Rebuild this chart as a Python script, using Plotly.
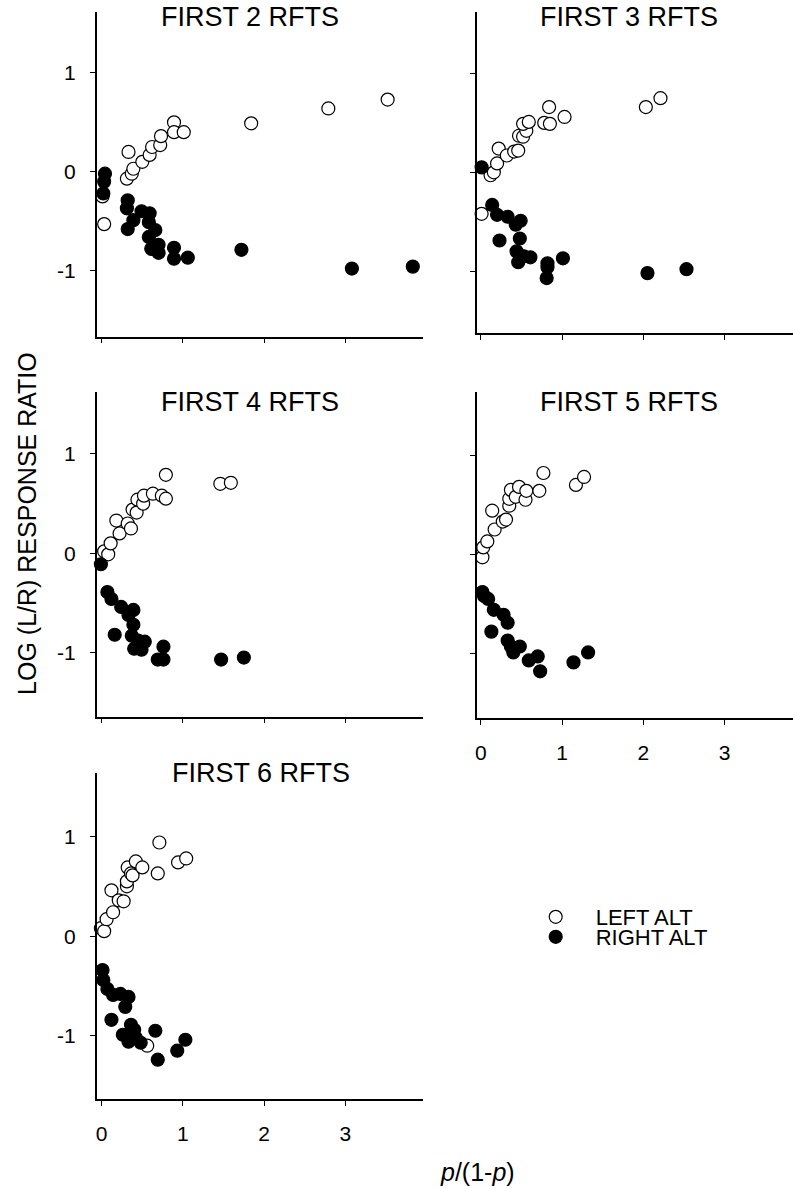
import plotly.graph_objects as go

W, H = 793, 1188

panel_titles = ["FIRST 2 RFTS", "FIRST 3 RFTS", "FIRST 4 RFTS", "FIRST 5 RFTS", "FIRST 6 RFTS"]

# FIRST 2 RFTS
p1_left_x = [0.03, 0.01, 0.31, 0.37, 0.39, 0.33, 0.50, 0.59, 0.62, 0.72, 0.73, 0.89, 0.89, 1.01, 1.84, 2.79, 3.52]
p1_left_y = [-0.53, -0.25, -0.07, -0.02, 0.03, 0.20, 0.10, 0.17, 0.25, 0.27, 0.36, 0.50, 0.40, 0.40, 0.49, 0.64, 0.73]
p1_right_x = [0.04, 0.03, 0.02, 0.32, 0.31, 0.32, 0.39, 0.49, 0.59, 0.58, 0.66, 0.58, 0.61, 0.70, 0.70, 0.89, 0.89, 1.06, 1.72, 3.08, 3.83]
p1_right_y = [-0.02, -0.10, -0.22, -0.29, -0.37, -0.58, -0.49, -0.40, -0.42, -0.51, -0.59, -0.66, -0.78, -0.74, -0.82, -0.77, -0.88, -0.87, -0.79, -0.98, -0.96]

# FIRST 3 RFTS
p2_left_x = [0.01, 0.12, 0.16, 0.20, 0.22, 0.32, 0.41, 0.46, 0.47, 0.52, 0.56, 0.52, 0.59, 0.78, 0.85, 0.84, 1.03, 2.03, 2.21]
p2_left_y = [-0.42, -0.03, 0.00, 0.09, 0.24, 0.17, 0.21, 0.22, 0.37, 0.36, 0.42, 0.49, 0.51, 0.50, 0.49, 0.66, 0.56, 0.66, 0.75]
p2_right_x = [0.01, 0.14, 0.20, 0.33, 0.43, 0.49, 0.23, 0.48, 0.44, 0.46, 0.53, 0.61, 0.82, 0.82, 0.81, 1.01, 2.05, 2.53]
p2_right_y = [0.05, -0.33, -0.43, -0.45, -0.53, -0.49, -0.69, -0.67, -0.80, -0.91, -0.85, -0.86, -0.92, -0.96, -1.07, -0.87, -1.02, -0.98]

# FIRST 4 RFTS
p3_left_x = [0.03, 0.08, 0.11, 0.18, 0.22, 0.32, 0.36, 0.38, 0.43, 0.44, 0.51, 0.52, 0.63, 0.74, 0.79, 0.79, 1.46, 1.59]
p3_left_y = [0.02, -0.01, 0.10, 0.33, 0.20, 0.30, 0.25, 0.44, 0.41, 0.54, 0.50, 0.58, 0.60, 0.58, 0.55, 0.79, 0.70, 0.71]
p3_right_x = [-0.01, 0.07, 0.12, 0.24, 0.33, 0.39, 0.39, 0.16, 0.37, 0.45, 0.40, 0.53, 0.49, 0.76, 0.69, 0.76, 1.47, 1.75]
p3_right_y = [-0.11, -0.39, -0.46, -0.54, -0.62, -0.57, -0.72, -0.82, -0.83, -0.88, -0.96, -0.89, -0.97, -0.94, -1.07, -1.07, -1.07, -1.05]

# FIRST 5 RFTS
p4_left_x = [0.02, 0.03, 0.08, 0.14, 0.17, 0.27, 0.31, 0.35, 0.35, 0.37, 0.43, 0.47, 0.55, 0.56, 0.72, 0.77, 1.17, 1.27]
p4_left_y = [-0.03, 0.07, 0.13, 0.44, 0.25, 0.33, 0.35, 0.49, 0.56, 0.65, 0.58, 0.68, 0.55, 0.64, 0.64, 0.82, 0.70, 0.78]
p4_right_x = [0.02, 0.04, 0.09, 0.16, 0.28, 0.33, 0.13, 0.33, 0.37, 0.48, 0.40, 0.59, 0.70, 0.73, 1.14, 1.32]
p4_right_y = [-0.38, -0.42, -0.45, -0.56, -0.61, -0.69, -0.78, -0.87, -0.93, -0.93, -0.99, -1.07, -1.03, -1.18, -1.09, -0.99]

# FIRST 6 RFTS
p5_left_x = [-0.01, 0.03, 0.06, 0.12, 0.14, 0.21, 0.27, 0.31, 0.31, 0.32, 0.36, 0.38, 0.42, 0.50, 0.69, 0.71, 0.94, 1.04, 0.56]
p5_left_y = [0.08, 0.05, 0.17, 0.46, 0.24, 0.36, 0.35, 0.50, 0.55, 0.69, 0.63, 0.61, 0.75, 0.69, 0.63, 0.94, 0.74, 0.78, -1.10]
p5_right_x = [0.01, 0.02, 0.07, 0.14, 0.23, 0.33, 0.29, 0.12, 0.36, 0.40, 0.26, 0.33, 0.42, 0.48, 0.66, 0.69, 0.93, 1.03]
p5_right_y = [-0.34, -0.44, -0.53, -0.59, -0.58, -0.61, -0.71, -0.84, -0.89, -0.94, -0.99, -1.06, -1.02, -1.07, -0.95, -1.24, -1.15, -1.04]

x_ticks = [0, 1, 2, 3]
x_tick_text = ["0", "1", "2", "3"]
y_ticks = [-1, 0, 1]
y_tick_text = ["-1", "0", "1"]
legend_labels = ["LEFT ALT", "RIGHT ALT"]
y_title = "LOG (L/R) RESPONSE RATIO"
x_title = "<i>p</i>/(1-<i>p</i>)"

lefts = [p1_left_x, p1_left_y, p2_left_x, p2_left_y, p3_left_x, p3_left_y, p4_left_x, p4_left_y, p5_left_x, p5_left_y]
rights = [p1_right_x, p1_right_y, p2_right_x, p2_right_y, p3_right_x, p3_right_y, p4_right_x, p4_right_y, p5_right_x, p5_right_y]

FONT = "Arial, Liberation Sans, Helvetica, sans-serif"

def fx(px):
    return px / W

def fy(py):
    return 1 - py / H

# panel boxes in pixels: (x0, x1, ytop, ybottom), ranges
boxes = [
    (95, 421.7, 11.7, 336.7, [-0.061, 3.951], [-1.669, 1.619]),
    (475.7, 793, 11.7, 333.0, [-0.053, 3.84], [-1.626, 1.625]),
    (95, 421.7, 391.7, 716.7, [-0.061, 3.951], [-1.645, 1.627]),
    (475.7, 793, 391.7, 718.3, [-0.053, 3.84], [-1.654, 1.640]),
    (95, 421.7, 773.3, 1099.3, [-0.061, 3.951], [-1.638, 1.635]),
]
show_x_labels = [False, False, False, True, True]
show_y_labels = [True, False, True, False, True]
title_pos = [(248.5, 19.5), (628.5, 19.5), (248.5, 404), (628.5, 404), (260, 775)]

fig = go.Figure()

for i in range(5):
    ax = "" if i == 0 else str(i + 1)
    lx, ly = lefts[2 * i], lefts[2 * i + 1]
    rx, ry = rights[2 * i], rights[2 * i + 1]
    fig.add_trace(go.Scatter(
        x=lx, y=ly, mode="markers", xaxis="x" + ax, yaxis="y" + ax,
        name=legend_labels[0], showlegend=(i == 0), legend="legend",
        marker=dict(symbol="circle", size=13, color="white", line=dict(color="black", width=1.2)),
        cliponaxis=False,
    ))
    fig.add_trace(go.Scatter(
        x=rx, y=ry, mode="markers", xaxis="x" + ax, yaxis="y" + ax,
        name=legend_labels[1], showlegend=(i == 0), legend="legend2",
        marker=dict(symbol="circle", size=13, color="black", line=dict(color="black", width=1.2)),
        cliponaxis=False,
    ))

layout = dict(
    width=W, height=H,
    margin=dict(l=0, r=0, t=0, b=0),
    paper_bgcolor="white", plot_bgcolor="white",
    font=dict(family=FONT, color="black"),
)

for i, (x0, x1, yt, yb, xr, yr) in enumerate(boxes):
    ax = "" if i == 0 else str(i + 1)
    layout["xaxis" + ax] = dict(
        domain=[fx(x0), fx(x1)], range=xr, anchor="y" + ax,
        showgrid=False, zeroline=False, showline=True, linecolor="black", linewidth=1.5,
        ticks="outside", ticklen=5, tickwidth=1.2, tickcolor="black",
        tickvals=x_ticks, ticktext=x_tick_text, showticklabels=show_x_labels[i],
        tickfont=dict(size=21, family=FONT), ticklabelstandoff=10,
        fixedrange=True,
    )
    layout["yaxis" + ax] = dict(
        domain=[fy(yb), fy(yt)], range=yr, anchor="x" + ax,
        showgrid=False, zeroline=False, showline=True, linecolor="black", linewidth=1.5,
        ticks="outside", ticklen=5, tickwidth=1.2, tickcolor="black",
        tickvals=y_ticks, ticktext=y_tick_text, showticklabels=show_y_labels[i],
        tickfont=dict(size=21, family=FONT), ticklabelstandoff=10,
        fixedrange=True,
    )

annotations = []
for i, (cx, cy) in enumerate(title_pos):
    annotations.append(dict(
        text=panel_titles[i], x=fx(cx), y=fy(cy - 2), xref="paper", yref="paper",
        xanchor="center", yanchor="middle", showarrow=False,
        font=dict(size=27, family=FONT, color="black"),
    ))
annotations.append(dict(
    text=y_title, x=fx(25), y=fy(523), xref="paper", yref="paper",
    xanchor="center", yanchor="middle", showarrow=False, textangle=-90,
    font=dict(size=25, family=FONT, color="black"),
))
annotations.append(dict(
    text=x_title, x=fx(477), y=fy(1172), xref="paper", yref="paper",
    xanchor="center", yanchor="middle", showarrow=False,
    font=dict(size=25, family=FONT, color="black"),
))
layout["annotations"] = annotations

leg_common = dict(
    xref="paper", yref="paper", xanchor="left", yanchor="middle",
    font=dict(size=22, family=FONT, color="black"), itemwidth=70,
    bgcolor="rgba(0,0,0,0)", borderwidth=0, tracegroupgap=0,
)
layout["legend"] = dict(x=fx(515), y=fy(917), **leg_common)
layout["legend2"] = dict(x=fx(515), y=fy(937), **leg_common)

fig.update_layout(**layout)
fig.write_html(
    "out.html",
    config={"displayModeBar": False, "staticPlot": False},
    post_script="document.body.style.margin='0';document.body.style.padding='0';document.body.style.overflow='hidden';",
)
